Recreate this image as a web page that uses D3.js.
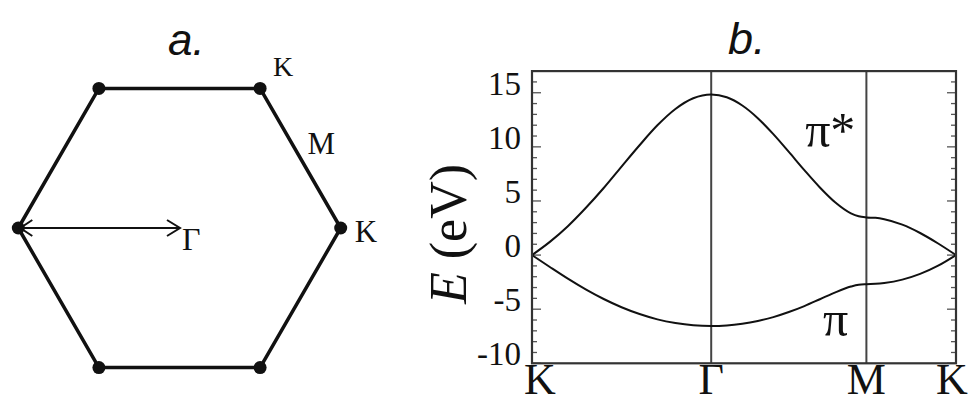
<!DOCTYPE html>
<html>
<head>
<meta charset="utf-8">
<script src="https://cdn.jsdelivr.net/npm/d3@7"></script>
<style>
  body { margin: 0; background: #fff; }
  svg { display: block; }
</style>
</head>
<body>
<div class="fig"></div>
<script>
// ---- panel a : Brillouin zone (units of |Gamma-K|) ----
var hexVertices = [[1, 0], [0.5, 0.866], [-0.5, 0.866], [-1, 0], [-0.5, -0.866], [0.5, -0.866]];
var hexLabels = ["K", "M", "K", "\u0393"];
var hexLabelPos = [[0.5, 0.866], [0.75, 0.433], [1, 0], [0, 0]];

// ---- panel b : band structure along K - Gamma - M - K ----
var kTicks = [0, 1.1547, 2.1547, 2.7321];
var kTickLabels = ["K", "\u0393", "M", "K"];
var kPath = [0, 0.115, 0.231, 0.346, 0.462, 0.577, 0.693, 0.808, 0.924, 1.039, 1.155,
  1.255, 1.355, 1.455, 1.555, 1.655, 1.755, 1.855, 1.955, 2.055, 2.105, 2.155,
  2.213, 2.270, 2.386, 2.501, 2.617, 2.732];
var piStar = [0, 1.22, 2.67, 4.35, 6.20, 8.18, 10.15, 11.99, 13.50, 14.49, 14.84,
  14.58, 13.82, 12.65, 11.17, 9.53, 7.85, 6.25, 4.86, 3.86, 3.58, 3.48,
  3.44, 3.31, 2.81, 2.04, 1.07, 0];
var piBand = [0, -1.10, -2.18, -3.17, -4.06, -4.82, -5.45, -5.94, -6.28, -6.49, -6.56,
  -6.51, -6.35, -6.09, -5.73, -5.26, -4.71, -4.08, -3.44, -2.91, -2.74, -2.69,
  -2.66, -2.58, -2.27, -1.74, -0.98, 0];
var yMajor = [-10, -5, 0, 5, 10, 15];
var yMinor = d3.range(-10, 17);

var SERIF = "'Liberation Serif', 'Times New Roman', 'DejaVu Serif', serif";
var SANS = "'Liberation Sans', Arial, 'DejaVu Sans', sans-serif";

var svg = d3.select(".fig").append("svg")
  .attr("width", 977)
  .attr("height", 405);

// ================= panel a =================
var hx = d3.scaleLinear().domain([-1, 1]).range([18.3, 340.7]);
var hy = d3.scaleLinear().domain([-1, 1]).range([389.2, 66.8]);

var ga = svg.append("g");

ga.append("text")
  .attr("x", 168).attr("y", 55)
  .attr("font-family", SANS)
  .attr("font-style", "italic")
  .attr("font-size", "44px")
  .attr("fill", "#111")
  .text("a.");

ga.append("path")
  .attr("d", d3.line().x(function (d) { return hx(d[0]); }).y(function (d) { return hy(d[1]); })
    .curve(d3.curveLinearClosed)(hexVertices))
  .attr("fill", "none")
  .attr("stroke", "#111")
  .attr("stroke-width", 3.5)
  .attr("stroke-linejoin", "round");

ga.selectAll("circle.v")
  .data(hexVertices)
  .enter().append("circle")
  .attr("class", "v")
  .attr("cx", function (d) { return hx(d[0]); })
  .attr("cy", function (d) { return hy(d[1]); })
  .attr("r", 6.5)
  .attr("fill", "#111");

// arrow from left K to Gamma (open heads at both ends)
var ax0 = hx(-1), ax1 = hx(0) + 0.5, ay = hy(0);
ga.append("line")
  .attr("x1", ax0).attr("x2", ax1).attr("y1", ay).attr("y2", ay)
  .attr("stroke", "#111").attr("stroke-width", 2);
ga.append("path")
  .attr("d", "M" + (ax1 - 13) + "," + (ay - 8) + "L" + ax1 + "," + ay + "L" + (ax1 - 13) + "," + (ay + 8))
  .attr("fill", "none").attr("stroke", "#111").attr("stroke-width", 2);
ga.append("path")
  .attr("d", "M" + (ax0 + 14) + "," + (ay - 8) + "L" + (ax0 + 2) + "," + ay + "L" + (ax0 + 14) + "," + (ay + 8))
  .attr("fill", "none").attr("stroke", "#111").attr("stroke-width", 2);

// point labels
var labelOff = [[13, -12, 28], [7, -4, 31], [14, 14, 31], [2.5, 22, 32]];
ga.selectAll("text.pt")
  .data(hexLabels)
  .enter().append("text")
  .attr("class", "pt")
  .attr("font-family", SERIF)
  .attr("fill", "#111")
  .attr("x", function (d, i) { return hx(hexLabelPos[i][0]) + labelOff[i][0]; })
  .attr("y", function (d, i) { return hy(hexLabelPos[i][1]) + labelOff[i][1]; })
  .attr("font-size", function (d, i) { return labelOff[i][2] + "px"; })
  .text(function (d) { return d; });

// ================= panel b =================
var xScale = d3.scaleLinear().domain([0, 2.7321]).range([532, 956]);
var yScale = d3.scaleLinear().domain([-10, 17]).range([363.3, 71.1]);

var gb = svg.append("g");

gb.append("text")
  .attr("x", 728).attr("y", 54)
  .attr("font-family", SANS)
  .attr("font-style", "italic")
  .attr("font-size", "45px")
  .attr("fill", "#111")
  .text("b.");

// vertical lines at Gamma and M
gb.selectAll("line.sym")
  .data(kTicks.slice(1, 3))
  .enter().append("line")
  .attr("class", "sym")
  .attr("x1", function (d) { return xScale(d); })
  .attr("x2", function (d) { return xScale(d); })
  .attr("y1", yScale(17)).attr("y2", yScale(-10))
  .attr("stroke", "#444").attr("stroke-width", 2);

// minor / major ticks on both sides, pointing inward
[xScale.range()[0], xScale.range()[1]].forEach(function (x0, side) {
  var dir = side === 0 ? 1 : -1;
  gb.selectAll("line.tk" + side)
    .data(yMinor)
    .enter().append("line")
    .attr("class", "tk" + side)
    .attr("x1", x0)
    .attr("x2", function (d) { return x0 + dir * (d % 5 === 0 ? 9 : 5); })
    .attr("y1", function (d) { return yScale(d); })
    .attr("y2", function (d) { return yScale(d); })
    .attr("stroke", "#555").attr("stroke-width", 1.3);
});

// bands
var lineGen = d3.line()
  .x(function (d, i) { return xScale(kPath[i]); })
  .y(function (d) { return yScale(d); })
  .curve(d3.curveMonotoneX);

[piStar, piBand].forEach(function (band) {
  gb.append("path")
    .attr("d", lineGen(band))
    .attr("fill", "none")
    .attr("stroke", "#111")
    .attr("stroke-width", 2);
});

// frame
gb.append("rect")
  .attr("x", xScale.range()[0]).attr("y", yScale(17))
  .attr("width", xScale.range()[1] - xScale.range()[0])
  .attr("height", yScale(-10) - yScale(17))
  .attr("fill", "none")
  .attr("stroke", "#333")
  .attr("stroke-width", 2.2);

// y tick labels
gb.selectAll("text.ylab")
  .data(yMajor)
  .enter().append("text")
  .attr("class", "ylab")
  .attr("font-family", SERIF)
  .attr("fill", "#111")
  .attr("x", 521)
  .attr("y", function (d) { return yScale(d) + 2; })
  .attr("text-anchor", "end")
  .attr("font-size", "33px")
  .text(function (d) { return d; });

// x tick labels
gb.selectAll("text.xlab")
  .data(kTickLabels)
  .enter().append("text")
  .attr("class", "xlab")
  .attr("font-family", SERIF)
  .attr("fill", "#111")
  .attr("x", function (d, i) { return xScale(kTicks[i]) + (i === 0 ? 8 : (i === 3 ? -4 : 0)); })
  .attr("y", 394)
  .attr("text-anchor", "middle")
  .attr("font-size", "44px")
  .text(function (d) { return d; });

// y axis title
var yt = gb.append("text")
  .attr("font-family", SERIF)
  .attr("fill", "#111")
  .attr("transform", "translate(466," + 234 + ") rotate(-90)")
  .attr("text-anchor", "middle")
  .attr("font-size", "52px");
yt.append("tspan").attr("font-style", "italic").text("E");
yt.append("tspan").text(" (eV)");

// band labels
gb.append("text")
  .attr("font-family", SERIF)
  .attr("fill", "#111")
  .attr("x", xScale(1.76)).attr("y", yScale(10))
  .attr("font-size", "50px")
  .text("\u03c0*");
gb.append("text")
  .attr("font-family", SERIF)
  .attr("fill", "#111")
  .attr("x", xScale(1.875)).attr("y", yScale(-7.5))
  .attr("font-size", "50px")
  .text("\u03c0");
</script>
</body>
</html>
